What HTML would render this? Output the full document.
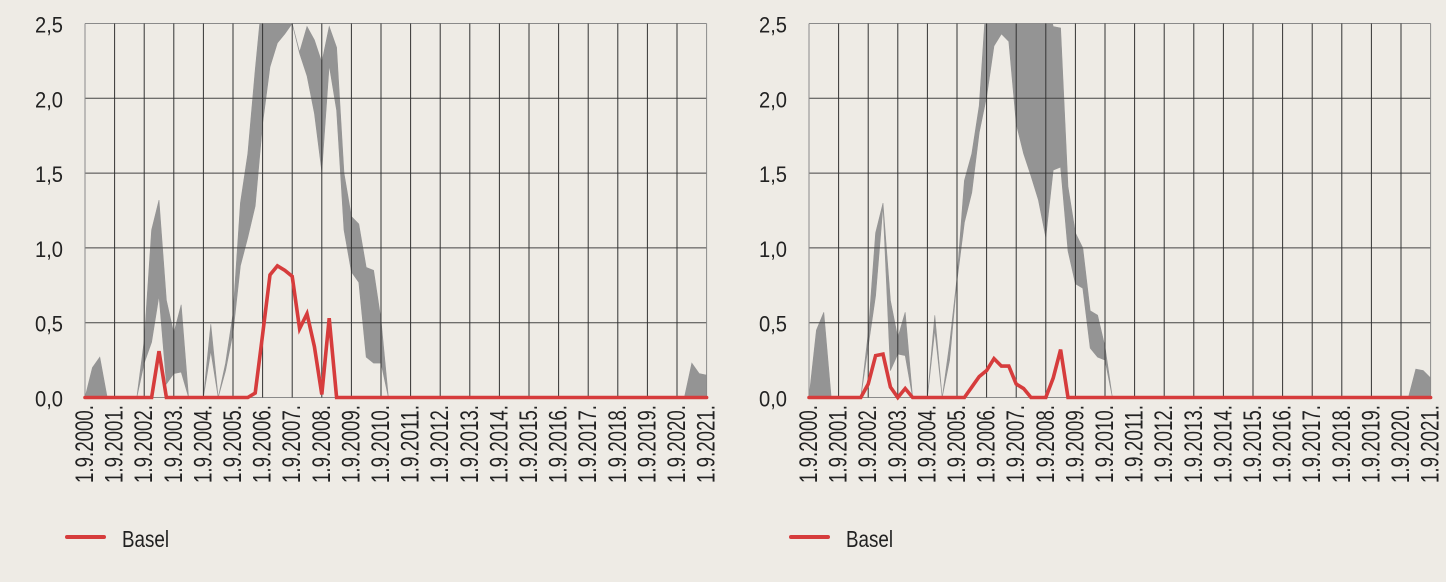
<!DOCTYPE html>
<html><head><meta charset="utf-8"><style>
html,body{margin:0;padding:0;background:#eeebe5;}
svg{display:block;font-family:"Liberation Sans",sans-serif;}
</style></head><body>
<svg id="svg" width="1446" height="582" viewBox="0 0 1446 582">
<rect x="0" y="0" width="1446" height="582" fill="#eeebe5"/>
</svg>
<script>
const N = null;
const categories = ["1.9.2000.","1.9.2001.","1.9.2002.","1.9.2003.","1.9.2004.","1.9.2005.","1.9.2006.","1.9.2007.","1.9.2008.","1.9.2009.","1.9.2010.","1.9.2011.","1.9.2012.","1.9.2013.","1.9.2014.","1.9.2015.","1.9.2016.","1.9.2017.","1.9.2018.","1.9.2019.","1.9.2020.","1.9.2021."];
const yTicks = [0, 0.5, 1, 1.5, 2, 2.5];
const yTickLabels = ["0,0","0,5","1,0","1,5","2,0","2,5"];
const seriesName = "Basel";
// quarterly values, 85 points from 1.9.2000 to 1.9.2021
const leftBasel = [
0,0,0,0,0,0,0,0,0,0,
0.31,0,0,0,0,0,0,0,0,0,
0,0,0,0.03,0.42,0.82,0.88,0.85,0.81,0.46,
0.56,0.34,0.02,0.53,0,0,0,0,0,0,
0,0,0,0,0,0,0,0,0,0,
0,0,0,0,0,0,0,0,0,0,
0,0,0,0,0,0,0,0,0,0,
0,0,0,0,0,0,0,0,0,0,
0,0,0,0,0];
const leftLower = [
0,0,0,0,N,N,N,0,0.23,0.37,
0.68,0.09,0.16,0.17,0,N,0,0.31,0,0.18,
0.43,0.88,1.07,1.28,1.83,2.21,2.37,2.43,2.5,2.3,
2.15,1.9,1.51,2.22,1.92,1.12,0.84,0.77,0.27,0.23,
0.23,0,N,N,N,N,N,N,N,N,
N,N,N,N,N,N,N,N,N,N,
N,N,N,N,N,N,N,N,N,N,
N,N,N,N,N,N,N,N,N,N,
N,0,0,0,0];
const leftUpper = [
0,0.2,0.27,0,N,N,N,0,0.38,1.12,
1.32,0.65,0.43,0.62,0,N,0,0.49,0,0.23,
0.56,1.3,1.63,2.19,2.7,2.7,2.7,2.7,2.5,2.31,
2.48,2.39,2.24,2.48,2.34,1.5,1.21,1.16,0.87,0.85,
0.52,0,N,N,N,N,N,N,N,N,
N,N,N,N,N,N,N,N,N,N,
N,N,N,N,N,N,N,N,N,N,
N,N,N,N,N,N,N,N,N,N,
N,0,0.23,0.16,0.15];
const rightBasel = [
0,0,0,0,0,0,0,0,0.09,0.28,
0.29,0.07,0,0.06,0,0,0,0,0,0,
0,0,0.07,0.14,0.18,0.26,0.21,0.21,0.09,0.06,
0,0,0,0.13,0.32,0,0,0,0,0,
0,0,0,0,0,0,0,0,0,0,
0,0,0,0,0,0,0,0,0,0,
0,0,0,0,0,0,0,0,0,0,
0,0,0,0,0,0,0,0,0,0,
0,0,0,0,0];
const rightLower = [
0,0,0,0,N,N,N,0,0.34,0.68,
1.28,0.18,0.29,0.28,0,N,0,0.45,0,0.25,
0.78,1.17,1.37,1.77,2.01,2.35,2.43,2.38,1.83,1.63,
1.48,1.32,1.07,1.52,1.54,0.98,0.76,0.73,0.33,0.27,
0.25,0,N,N,N,N,N,N,N,N,
N,N,N,N,N,N,N,N,N,N,
N,N,N,N,N,N,N,N,N,N,
N,N,N,N,N,N,N,N,N,N,
N,0,0,0,0];
const rightUpper = [
0,0.45,0.57,0,N,N,N,0,0.43,1.1,
1.3,0.65,0.4,0.57,0,N,0,0.55,0,0.36,
0.8,1.45,1.63,1.95,2.7,2.7,2.7,2.7,2.7,2.7,
2.7,2.7,2.7,2.48,2.47,1.41,1.1,1.0,0.58,0.55,
0.34,0,N,N,N,N,N,N,N,N,
N,N,N,N,N,N,N,N,N,N,
N,N,N,N,N,N,N,N,N,N,
N,N,N,N,N,N,N,N,N,N,
N,0,0.19,0.18,0.13];

const NS = "http://www.w3.org/2000/svg";
const svg = document.getElementById('svg');
function mk(tag, attrs, parent) {
  const e = document.createElementNS(NS, tag);
  for (const k in attrs) e.setAttribute(k, attrs[k]);
  (parent || svg).appendChild(e);
  return e;
}

function drawPanel(prefix, x0, basel, lower, upper, legendX) {
  const x1 = x0 + 621.6, yTop = 23.5, yBot = 397.5;
  const nYears = categories.length - 1;
  const xs = i => x0 + (i / 4) * (x1 - x0) / nYears;
  const xy = v => yBot - (v / 2.5) * (yBot - yTop);

  const g = mk('g', {});
  
  

  const cp = mk('clipPath', {id: prefix + '-clip'}, g);
  mk('rect', {x: x0, y: yTop, width: x1 - x0, height: yBot - yTop + 3}, cp);

  // band segments
  const bandG = mk('g', {'clip-path': 'url(#' + prefix + '-clip)'}, g);
  
  
  let seg = [];
  const flush = () => {
    if (seg.length > 1) {
      const pts = seg.map(i => xs(i) + ',' + xy(upper[i])).concat(seg.slice().reverse().map(i => xs(i) + ',' + xy(lower[i])));
      const p = mk('polygon', {points: pts.join(' '), fill: '#949494', stroke: '#949494', 'stroke-width': 0.6}, bandG);
      
      
    }
    seg = [];
  };
  for (let i = 0; i < lower.length; i++) {
    if (lower[i] === null || upper[i] === null) flush(); else seg.push(i);
  }
  flush();

  // grid
  yTicks.forEach((t, k) => {
    const l = mk('line', {x1: x0, x2: x1, y1: xy(t), y2: xy(t), stroke: k === 0 || k === yTicks.length - 1 ? '#8a8a8a' : '#444', 'stroke-width': 1}, g);
    
    
    const tx = mk('text', {x: x0 - 22, y: xy(t) + 9, 'text-anchor': 'end', 'font-size': 22, fill: '#222', textLength: 28, lengthAdjust: 'spacingAndGlyphs'}, g);
    tx.textContent = yTickLabels[k];
    
    
  });
  categories.forEach((c, k) => {
    const x = x0 + k * (x1 - x0) / nYears;
    const l = mk('line', {x1: x, x2: x, y1: yTop, y2: yBot, stroke: (k === 0 || k === nYears) ? '#8a8a8a' : '#333', 'stroke-width': 1}, g);
    
    
    const tx = mk('text', {x: 0, y: 0, 'text-anchor': 'end', 'font-size': 25, fill: '#222', textLength: 78, lengthAdjust: 'spacingAndGlyphs', transform: 'translate(' + (x + 8) + ',405) rotate(-90)'}, g);
    tx.textContent = c;
    
    
  });

  // red line
  const pts = basel.map((v, i) => xs(i) + ',' + xy(v)).join(' ');
  const pl = mk('polyline', {points: pts, fill: 'none', stroke: '#d63c3c', 'stroke-width': 3.6, 'stroke-linejoin': 'miter', 'stroke-linecap': 'round'}, g);
  
  

  // legend
  const lg = mk('g', {}, g);
  
  
  mk('line', {x1: legendX, x2: legendX + 37, y1: 537, y2: 537, stroke: '#d63c3c', 'stroke-width': 4, 'stroke-linecap': 'round'}, lg);
  const lt = mk('text', {x: legendX + 55, y: 547, 'font-size': 23, fill: '#222', textLength: 47, lengthAdjust: 'spacingAndGlyphs'}, lg);
  lt.textContent = seriesName;
  
  
}

drawPanel('left', 85, leftBasel, leftLower, leftUpper, 67);
drawPanel('right', 809, rightBasel, rightLower, rightUpper, 791);
</script>
</body></html>
